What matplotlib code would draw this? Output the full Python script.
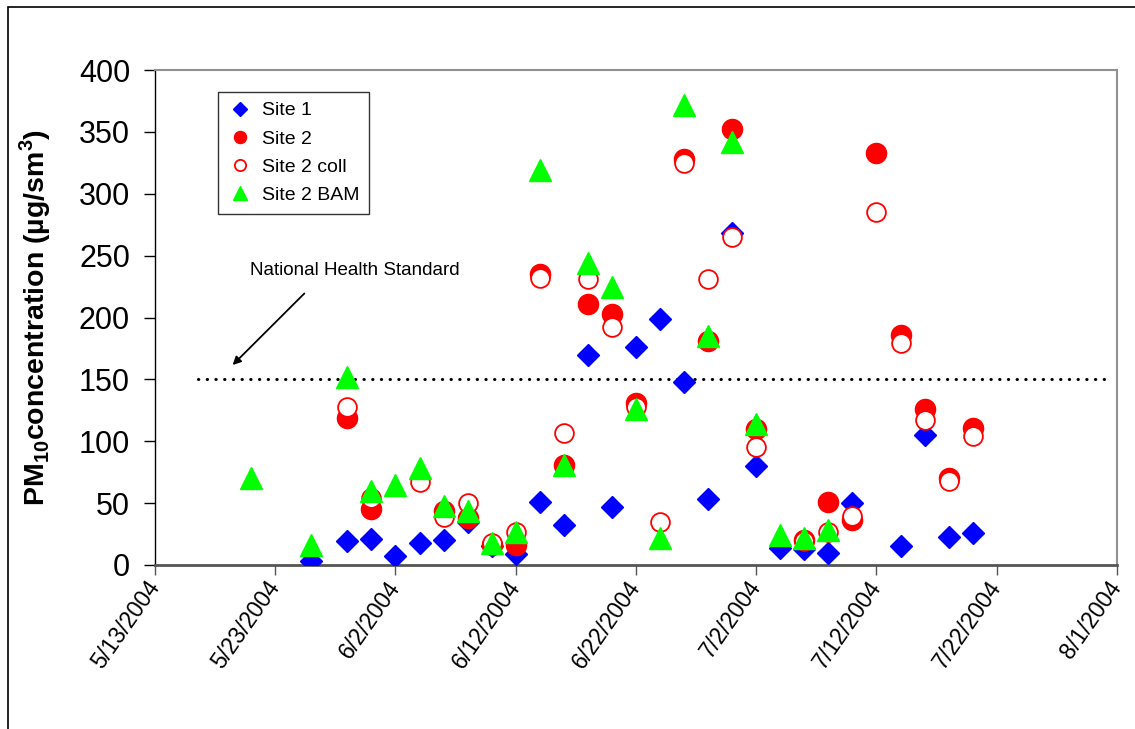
import datetime as dt
import matplotlib
matplotlib.use("Agg")
import matplotlib.pyplot as plt
import matplotlib.dates as mdates
from matplotlib.ticker import FuncFormatter, MultipleLocator
from matplotlib.patches import Rectangle

plt.rcParams["font.family"] = ["Liberation Sans", "DejaVu Sans"]
plt.rcParams["mathtext.fontset"] = "custom"
plt.rcParams["mathtext.rm"] = "Liberation Sans"
plt.rcParams["mathtext.bf"] = "Liberation Sans:bold"


def d(month, day):
    return dt.datetime(2004, month, day)


# Site 1 (blue diamonds)
site1_dates = [d(5, 26), d(5, 29), d(5, 31), d(6, 2), d(6, 4), d(6, 6), d(6, 8),
               d(6, 10), d(6, 12), d(6, 14), d(6, 16), d(6, 18), d(6, 20), d(6, 22),
               d(6, 24), d(6, 26), d(6, 28), d(6, 30), d(7, 2), d(7, 4), d(7, 6),
               d(7, 8), d(7, 10), d(7, 14), d(7, 16), d(7, 18), d(7, 20)]
site1_values = [3, 19, 21, 7, 18, 20, 35,
                15, 9, 51, 32, 170, 47, 176,
                199, 148, 53, 268, 80, 14, 13,
                10, 50, 15, 105, 23, 26]

# Site 2 (filled red circles)
site2_dates = [d(5, 29), d(5, 31), d(6, 6), d(6, 8), d(6, 10), d(6, 12), d(6, 14),
               d(6, 16), d(6, 18), d(6, 20), d(6, 22), d(6, 26), d(6, 28), d(6, 30),
               d(7, 2), d(7, 6), d(7, 8), d(7, 10), d(7, 12), d(7, 14), d(7, 16),
               d(7, 18), d(7, 20)]
site2_values = [119, 45, 44, 38, 16, 16, 235,
                81, 211, 203, 131, 328, 181, 352,
                110, 20, 51, 36, 333, 186, 126,
                70, 111]

# Site 2 collocated (open red circles)
coll_dates = [d(5, 29), d(5, 31), d(6, 4), d(6, 6), d(6, 8), d(6, 10), d(6, 12),
              d(6, 14), d(6, 16), d(6, 18), d(6, 20), d(6, 22), d(6, 24), d(6, 26),
              d(6, 28), d(6, 30), d(7, 2), d(7, 6), d(7, 8), d(7, 10), d(7, 12),
              d(7, 14), d(7, 16), d(7, 18), d(7, 20)]
coll_values = [128, 54, 67, 39, 50, 18, 27,
               232, 107, 231, 192, 128, 35, 325,
               231, 265, 95, 19, 27, 40, 285,
               179, 117, 68, 104]

# Site 2 BAM (green triangles)
bam_dates = [d(5, 21), d(5, 26), d(5, 29), d(5, 31), d(6, 2), d(6, 4), d(6, 6),
             d(6, 8), d(6, 10), d(6, 12), d(6, 14), d(6, 16), d(6, 18), d(6, 20),
             d(6, 22), d(6, 24), d(6, 26), d(6, 28), d(6, 30), d(7, 2), d(7, 4),
             d(7, 6), d(7, 8)]
bam_values = [70, 16, 152, 60, 65, 78, 48,
              44, 18, 27, 319, 81, 244, 225,
              126, 22, 372, 185, 342, 114, 24,
              22, 28]

standard_value = 150
standard_dates = [d(5, 16) + dt.timedelta(hours=14), d(7, 31) + dt.timedelta(hours=12)]

fig = plt.figure(figsize=(11.35, 7.29), dpi=100)
ax = fig.add_axes([155 / 1135, 1 - 565 / 729, 962 / 1135, 495 / 729])

ax.plot(site1_dates, site1_values, linestyle="none", marker="D", markersize=11.5,
        color="#0000ff", label="Site 1", zorder=3)
ax.plot(site2_dates, site2_values, linestyle="none", marker="o", markersize=14.5,
        color="#ff0000", label="Site 2", zorder=4)
ax.plot(coll_dates, coll_values, linestyle="none", marker="o", markersize=13.5,
        markerfacecolor="white", markeredgecolor="#ff0000", markeredgewidth=1.3,
        label="Site 2 coll", zorder=5)
ax.plot(bam_dates, bam_values, linestyle="none", marker="^", markersize=16,
        color="#00ff00", label="Site 2 BAM", zorder=6)

# national health standard
ax.plot(standard_dates, [standard_value] * 2, color="black", linewidth=2.2,
        linestyle=(0, (0.1, 2.75)), dash_capstyle="round", zorder=2)
ax.text(d(5, 29) + dt.timedelta(hours=14), 238, "National Health Standard",
        fontsize=13.5, ha="center", va="center")
ax.annotate("", xy=(d(5, 19) + dt.timedelta(hours=7), 160),
            xytext=(d(5, 25) + dt.timedelta(hours=14), 221),
            arrowprops=dict(arrowstyle="-|>", color="black", lw=1.3,
                            mutation_scale=12))

ax.set_xlim(d(5, 13), d(8, 1))
ax.set_ylim(0, 400)
ax.set_xticks([d(5, 13) + dt.timedelta(days=10 * i) for i in range(9)])


def fmt_date(x, pos):
    t = mdates.num2date(x)
    return f"{t.month}/{t.day}/{t.year}"


ax.xaxis.set_major_formatter(FuncFormatter(fmt_date))
ax.yaxis.set_major_locator(MultipleLocator(50))

ax.tick_params(axis="y", direction="out", length=8, width=1, labelsize=22, pad=10)
ax.tick_params(axis="x", direction="out", length=7, width=1, labelsize=16.5, pad=6,
               color="#555555")
for lab in ax.get_xticklabels():
    lab.set_rotation(55)
    lab.set_ha("right")
    lab.set_va("center")
    lab.set_rotation_mode("anchor")
    lab.set_family(["Liberation Sans Narrow", "Liberation Sans"])

ax.spines["left"].set_color("black")
ax.spines["left"].set_linewidth(1)
ax.spines["bottom"].set_color("#555555")
ax.spines["bottom"].set_linewidth(2)
ax.spines["top"].set_color("#909090")
ax.spines["right"].set_color("#909090")
ax.spines["top"].set_linewidth(1.5)
ax.spines["right"].set_linewidth(1.5)

fig.text(35 / 1135, 1 - 317 / 729,
         r"PM$_{\mathbf{10}}$concentration (µg/sm$^{\mathbf{3}}$)",
         rotation=90, ha="center", va="center", fontsize=20.5, fontweight="bold")

leg = ax.legend(loc="upper left", bbox_to_anchor=(63 / 962, 473 / 495),
                fontsize=14, markerscale=0.6, frameon=True, fancybox=False,
                edgecolor="black", borderpad=0.5, labelspacing=0.55,
                handletextpad=0.45, handlelength=1.3, borderaxespad=0)
leg.get_frame().set_linewidth(1)

# chart border
fig.patches.append(Rectangle((8 / 1135, -0.01), 1.02, 1 - 7 / 729 + 0.01,
                             transform=fig.transFigure, fill=False,
                             edgecolor="black", linewidth=1.2))

fig.savefig("out.png", dpi=100)
